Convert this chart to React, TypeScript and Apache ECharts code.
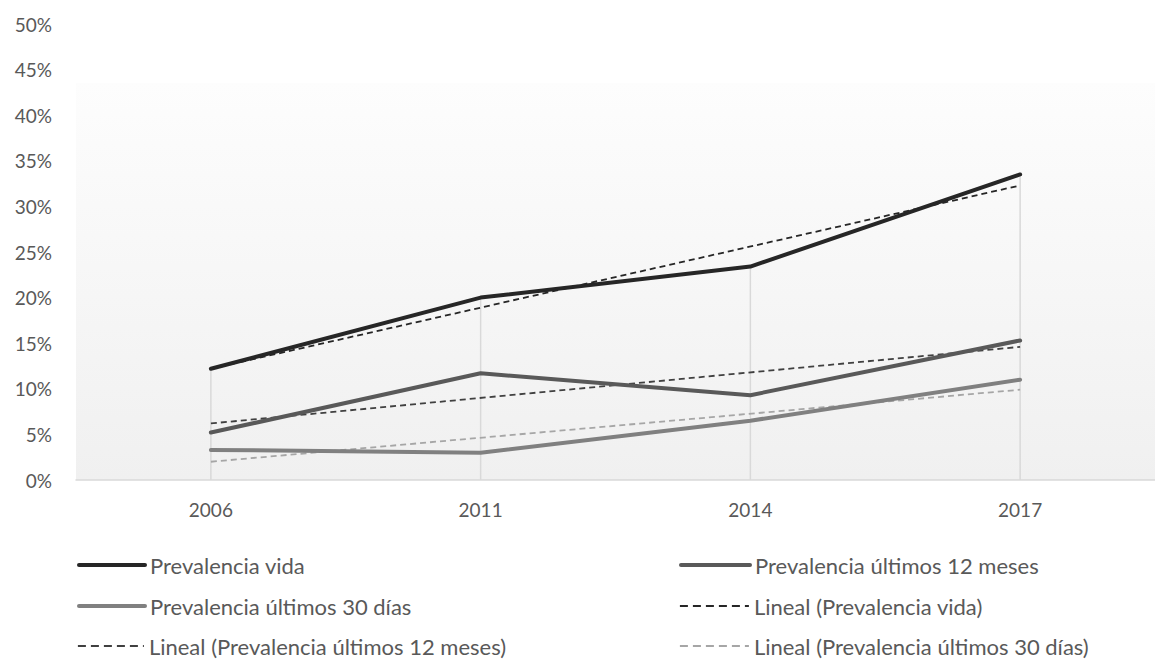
import React, { useEffect, useRef } from "react";
import * as echarts from "echarts";

// Survey years on the category axis
const years = ["2006", "2011", "2014", "2017"];

// Prevalence values (%) per year
const prevVida = [12.2, 20.0, 23.4, 33.5];
const prev12Meses = [5.2, 11.7, 9.3, 15.3];
const prev30Dias = [3.3, 3.0, 6.5, 11.0];

// Linear trend lines: start (2006) and end (2017) values, straight in between
const trendVida = [12.2, null, null, 32.3];
const trend12Meses = [6.2, null, null, 14.6];
const trend30Dias = [2.0, null, null, 9.9];

// Y axis scale (%)
const yMin = 0;
const yMax = 50;
const yStep = 5;

const names = {
  vida: "Prevalencia vida",
  m12: "Prevalencia últimos 12 meses",
  d30: "Prevalencia últimos 30 días",
  tVida: "Lineal (Prevalencia vida)",
  t12: "Lineal (Prevalencia últimos 12 meses)",
  t30: "Lineal (Prevalencia últimos 30 días)",
};

const FONT = "Lato, 'Open Sans', sans-serif";
const TEXT = "#595959";

export default function App() {
  const ref = useRef<HTMLDivElement>(null);

  useEffect(() => {
    if (!ref.current) return;
    const chart = echarts.init(ref.current, null, { renderer: "svg" });

    const legendText = { color: TEXT, fontSize: 22, fontFamily: FONT };
    const legendItem = (
      name: string,
      left: number,
      centerY: number,
      w: number,
      line: Record<string, unknown>
    ) => ({
      data: [name],
      left,
      top: centerY - 16,
      padding: 5,
      itemWidth: w,
      itemHeight: 14,
      itemGap: 0,
      selectedMode: false,
      textStyle: legendText,
      itemStyle: { opacity: 0 },
      lineStyle: line,
    });
    const solidKey = { width: 4, cap: "round" };
    const dashKey = { width: 1.8, cap: "butt", type: [8, 5] };

    const solid = (name: string, data: number[], color: string) => ({
      name,
      type: "line",
      data,
      symbol: "none",
      z: 4,
      lineStyle: { color, width: 4, cap: "round", join: "round" },
      itemStyle: { color },
    });
    const dashed = (name: string, data: (number | null)[], color: string) => ({
      name,
      type: "line",
      data,
      connectNulls: true,
      symbol: "none",
      z: 3,
      lineStyle: { color, width: 1.8, type: [6, 4] },
      itemStyle: { color },
    });

    chart.setOption({
      animation: false,
      textStyle: { fontFamily: FONT },
      graphic: [
        {
          type: "rect",
          z: -10,
          silent: true,
          shape: { x: 76, y: 83, width: 1079, height: 397 },
          style: {
            fill: new echarts.graphic.LinearGradient(0, 0, 0, 1, [
              { offset: 0, color: "#fdfdfd" },
              { offset: 1, color: "#f0f0f0" },
            ]),
          },
        },
      ],
      legend: [
        legendItem(names.vida, 72, 565, 66, solidKey),
        legendItem(names.m12, 674, 565, 69, solidKey),
        legendItem(names.d30, 72, 606, 66, solidKey),
        legendItem(names.tVida, 674, 606, 69, dashKey),
        legendItem(names.t12, 72, 646, 66, dashKey),
        legendItem(names.t30, 674, 646, 69, dashKey),
      ],
      grid: { left: 76, top: 24, width: 1092, height: 456, containLabel: false },
      xAxis: {
        type: "category",
        data: years,
        boundaryGap: true,
        axisLine: { lineStyle: { color: "#d9d9d9", width: 1.5 } },
        axisTick: { show: false },
        axisLabel: { color: TEXT, fontSize: 19, fontFamily: FONT, margin: 20 },
      },
      yAxis: {
        type: "value",
        min: yMin,
        max: yMax,
        interval: yStep,
        axisLine: { show: false },
        axisTick: { show: false },
        splitLine: { show: false },
        axisLabel: {
          color: TEXT,
          fontSize: 19,
          fontFamily: FONT,
          margin: 24,
          formatter: "{value}%",
        },
      },
      series: [
        {
          name: "drop",
          type: "bar",
          data: prevVida,
          barWidth: 1.5,
          silent: true,
          z: 1,
          itemStyle: { color: "#d9d9d9" },
        },
        dashed(names.tVida, trendVida, "#262626"),
        dashed(names.t12, trend12Meses, "#404040"),
        dashed(names.t30, trend30Dias, "#a6a6a6"),
        solid(names.vida, prevVida, "#262626"),
        solid(names.m12, prev12Meses, "#595959"),
        solid(names.d30, prev30Dias, "#808080"),
      ],
    });

    return () => chart.dispose();
  }, []);

  return (
    <div
      ref={ref}
      style={{ position: "absolute", left: 0, top: 0, width: 1155, height: 661 }}
    />
  );
}
